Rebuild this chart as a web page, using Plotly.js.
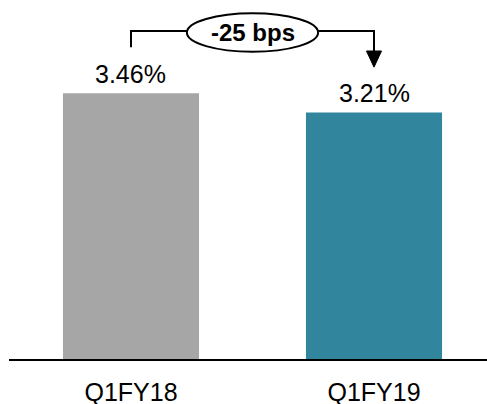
<!DOCTYPE html>
<html>
<head>
<meta charset="utf-8">
<script src="https://cdn.plot.ly/plotly-3.0.1.min.js"></script>
<style>html,body{margin:0;padding:0;background:#fff;}#chart{width:487px;height:404px;}</style>
</head>
<body>
<div id="chart"></div>
<script>
const categories = ["Q1FY18", "Q1FY19"];
const values = [3.46, 3.21];
const valueLabels = ["3.46%", "3.21%"];
const barColors = ["#A6A6A6", "#31859C"];
const changeLabel = "-25 bps";

const FONT = "Liberation Sans, Arial, sans-serif";
const yMax = 4.674;
const lineY = 4.27;
const idx = [0, 1];

const trace = {
  type: "bar",
  x: idx,
  y: values,
  width: 0.56,
  marker: {color: barColors, line: {width: 0}},
  hoverinfo: "skip"
};

const annotations = idx.map(i => ({
  x: i, y: values[i], xref: "x", yref: "y",
  text: valueLabels[i], showarrow: false,
  yanchor: "bottom", yshift: 3,
  font: {family: FONT, size: 25, color: "#000"}
}));
annotations.push({
  x: 0.5, y: lineY - 0.02, xref: "x", yref: "y",
  text: "<b>" + changeLabel + "</b>", showarrow: false,
  font: {family: FONT, size: 24, color: "#000"}
});

const lineStyle = {color: "#000", width: 2};
const shapes = [
  {type: "path", xref: "x", yref: "y",
   path: `M 0,${values[0] + 0.60} L 0,${lineY} L 0.23,${lineY}`,
   line: lineStyle},
  {type: "path", xref: "x", yref: "y",
   path: `M 0.77,${lineY} L 1,${lineY} L 1,${values[1] + 0.78}`,
   line: lineStyle},
  {type: "path", xref: "x", yref: "y",
   path: `M 0.969,${values[1] + 0.80} L 1.031,${values[1] + 0.80} L 1,${values[1] + 0.59} Z`,
   fillcolor: "#000", line: {color: "#000", width: 1}},
  {type: "circle", xref: "x", yref: "y",
   x0: 0.23, x1: 0.77, y0: 4.0, y1: 4.5,
   line: lineStyle, fillcolor: "#fff"}
];

const layout = {
  width: 487, height: 404,
  margin: {l: 9, r: 0, t: 0, b: 45, pad: 0},
  paper_bgcolor: "#fff", plot_bgcolor: "#fff",
  showlegend: false,
  xaxis: {
    range: [-0.502, 1.465],
    tickvals: idx, ticktext: categories,
    showline: true, linecolor: "#000", linewidth: 1.5,
    showgrid: false, zeroline: false, ticks: "",
    ticklabelstandoff: 10,
    tickfont: {family: FONT, size: 25, color: "#000"},
    fixedrange: true
  },
  yaxis: {
    range: [0, yMax], visible: false, showgrid: false, zeroline: false, fixedrange: true
  },
  annotations: annotations,
  shapes: shapes
};

Plotly.newPlot("chart", [trace], layout, {displayModeBar: false, staticPlot: true});
</script>
</body>
</html>
